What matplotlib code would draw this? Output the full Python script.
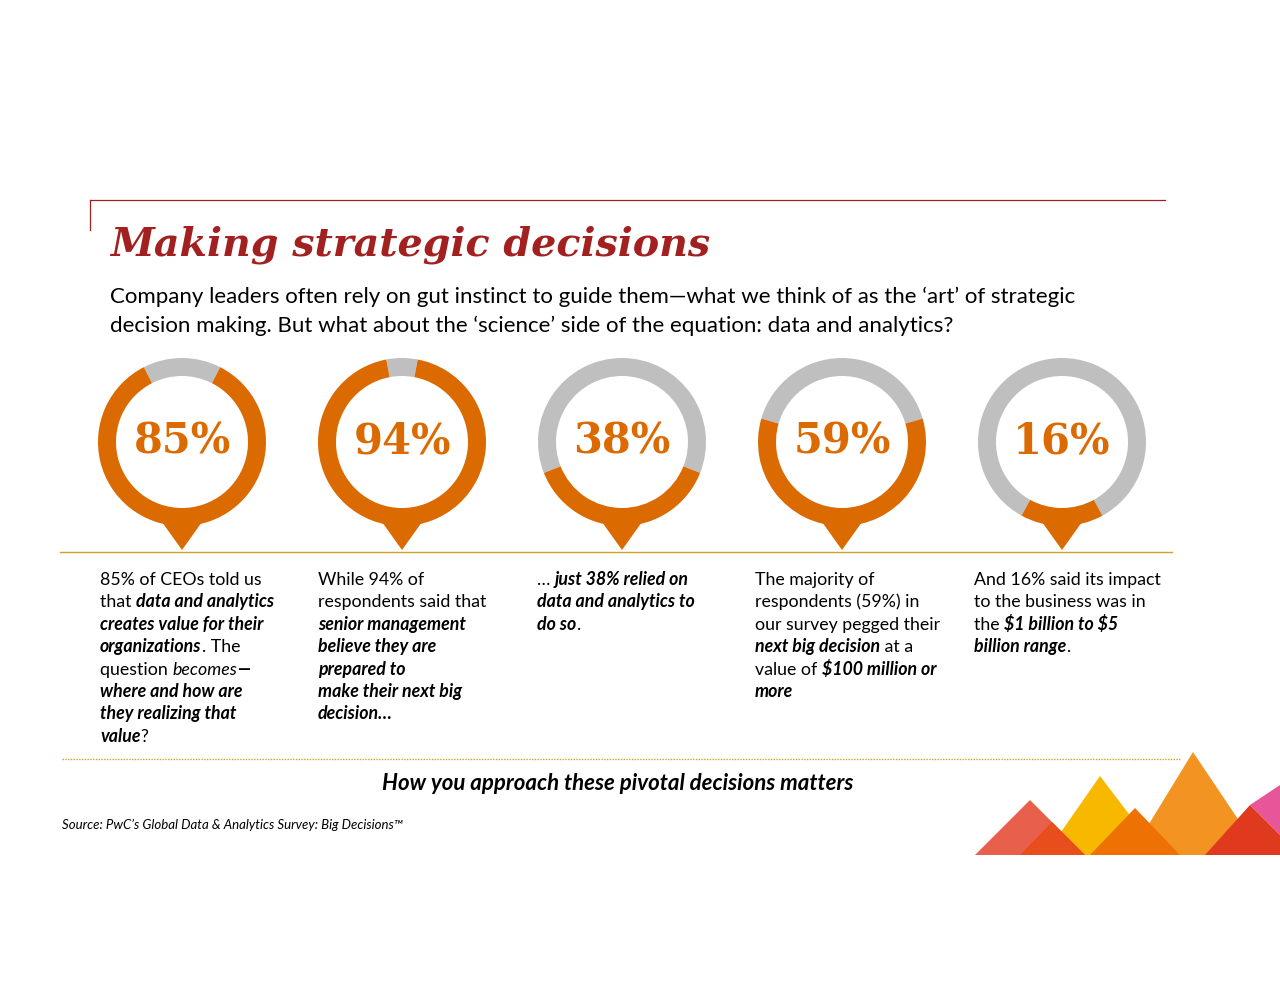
import matplotlib

matplotlib.use("Agg")
import matplotlib.pyplot as plt
from matplotlib.patches import Wedge, Polygon

W, H = 1280, 990
ORANGE = "#DB6A00"
GREY = "#BFBFBF"
RED = "#A32020"
GOLD = "#C9A227"

values = [85, 94, 38, 59, 16]
centers_x = [182, 402, 622, 842, 1062]
col_x = [100, 318, 537, 755, 974]

# text runs per column: (text, style) where style is n / bi / i
col_lines = [
    [[("85% of CEOs told us", "n")],
     [("that ", "n"), ("data and analytics", "bi")],
     [("creates value for their", "bi")],
     [("organizations", "bi"), (". The", "n")],
     [("question ", "n"), ("becomes", "i"), ("\u2014", "bi")],
     [("where and how are", "bi")],
     [("they realizing that", "bi")],
     [("value", "bi"), ("?", "n")]],
    [[("While 94% of", "n")],
     [("respondents said that", "n")],
     [("senior management", "bi")],
     [("believe they are", "bi")],
     [("prepared to", "bi")],
     [("make their next big", "bi")],
     [("decision\u2026", "bi")]],
    [[("\u2026 ", "n"), ("just 38% relied on", "bi")],
     [("data and analytics to", "bi")],
     [("do so", "bi"), (".", "n")]],
    [[("The majority of", "n")],
     [("respondents (59%) in", "n")],
     [("our survey pegged their", "n")],
     [("next big decision", "bi"), (" at a", "n")],
     [("value of ", "n"), ("$100 million or", "bi")],
     [("more", "bi")]],
    [[("And 16% said its impact", "n")],
     [("to the business was in", "n")],
     [("the ", "n"), ("$1 billion to $5", "bi")],
     [("billion range", "bi"), (".", "n")]],
]

BODY = "Lato"
STYLES = {"n": dict(weight="normal", style="normal"),
          "bi": dict(weight="bold", style="italic"),
          "i": dict(weight="normal", style="italic")}


def Y(py):
    return H - py


fig = plt.figure(figsize=(12.8, 9.9), dpi=100)
ax = fig.add_axes([0, 0, 1, 1])
ax.set_xlim(0, W)
ax.set_ylim(0, H)
ax.axis("off")
renderer = fig.canvas.get_renderer()


def text_width(s, size, **kw):
    t = ax.text(0, 0, s, fontsize=size, family=BODY, parse_math=False, **kw)
    w = t.get_window_extent(renderer).width
    t.remove()
    return w


def advance(s, size, **kw):
    return text_width("|" + s + "|", size, **kw) - text_width("||", size, **kw)


def runs(x, py, parts, size):
    for s, st in parts:
        ax.text(x, Y(py), s, fontsize=size, family=BODY, va="baseline", color="black",
                parse_math=False, **STYLES[st])
        x += advance(s, size, **STYLES[st])


# header rules
ax.plot([90, 1165], [Y(200), Y(200)], color=RED, lw=0.9)
ax.plot([90, 90], [Y(200), Y(230)], color=RED, lw=0.9)
ax.text(110, Y(256), "Making strategic decisions", fontsize=28.5, family="DejaVu Serif",
        weight="bold", style="italic", color=RED, va="baseline")
runs(110, 303, [("Company leaders often rely on gut instinct to guide them\u2014what we think of as the \u2018art\u2019 of strategic", "n")], 16)
runs(110, 332, [("decision making. But what about the \u2018science\u2019 side of the equation: data and analytics?", "n")], 16)

# donuts
cy = 442
r_out, width = 84, 18
for v, cx in zip(values, centers_x):
    half = v / 100 * 180
    ax.add_patch(Wedge((cx, Y(cy)), r_out, 270 + half, 270 - half + 360, width=width, color=GREY, lw=0))
    ax.add_patch(Wedge((cx, Y(cy)), r_out, 270 - half, 270 + half, width=width, color=ORANGE, lw=0))
    ax.add_patch(Polygon([(cx - 20, Y(522)), (cx + 20, Y(522)), (cx, Y(550))], color=ORANGE, lw=0))
    ax.text(cx, Y(cy), f"{v}%", fontsize=30, family="DejaVu Serif", weight="bold",
            color=ORANGE, ha="center", va="center")

ax.plot([60, 1172], [Y(552), Y(552)], color=GOLD, lw=1)

for x, lines in zip(col_x, col_lines):
    for i, parts in enumerate(lines):
        runs(x, 585 + i * 22.4, parts, 12.8)

ax.plot([62, 1180], [Y(759), Y(759)], color=GOLD, lw=1, ls=(0, (1, 1)))
ax.text(618, Y(784), "How you approach these pivotal decisions matters", fontsize=16, family=BODY,
        weight="bold", style="italic", ha="center", va="center")
ax.text(62, Y(825), "Source: PwC\u2019s Global Data & Analytics Survey: Big Decisions\u2122", fontsize=9.5,
        family=BODY, style="italic", va="center")

# decorative triangles
tris = [
    ("#F9B800", [(1045, 855), (1100, 776), (1160, 855)]),
    ("#F39321", [(1130, 855), (1193, 752), (1262, 855)]),
    ("#E8569A", [(1250, 805), (1280, 785), (1280, 835)]),
    ("#E8604C", [(975, 855), (1030, 800), (1085, 855)]),
    ("#E84E1B", [(1020, 855), (1052, 822), (1085, 855)]),
    ("#EE7203", [(1090, 855), (1135, 808), (1180, 855)]),
    ("#E03A1E", [(1205, 855), (1250, 805), (1280, 835), (1280, 855)]),
]
for c, pts in tris:
    ax.add_patch(Polygon([(x, Y(y)) for x, y in pts], color=c, lw=0))

fig.savefig("out.png", dpi=100)
